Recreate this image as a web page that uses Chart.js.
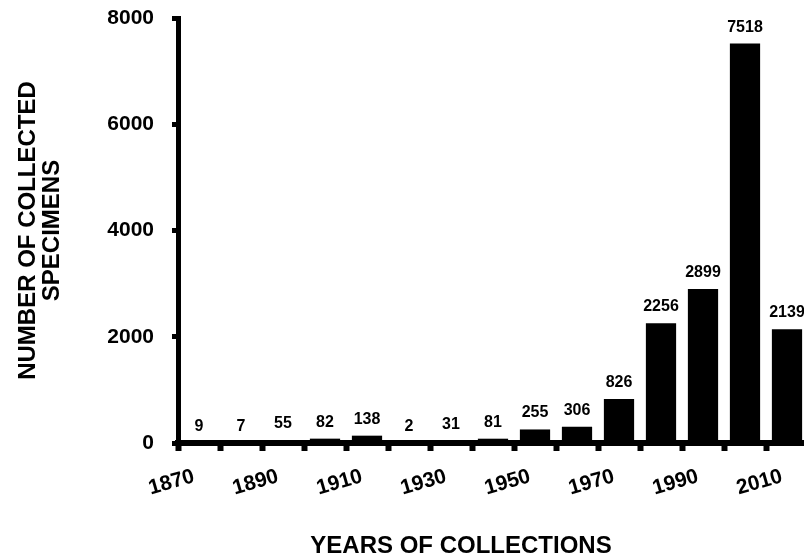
<!DOCTYPE html>
<html>
<head>
<meta charset="utf-8">
<script src="https://cdn.jsdelivr.net/npm/chart.js@4.4.1/dist/chart.umd.min.js"></script>
<style>
  html, body { margin: 0; padding: 0; background: #fff; overflow: hidden; }
  #wrap { position: absolute; left: 0; top: 0; width: 812px; height: 559px; }
</style>
</head>
<body>
<div id="wrap"><canvas id="c"></canvas></div>
<script>
// Decade start years (each bar covers one decade)
const decades = [1870, 1880, 1890, 1900, 1910, 1920, 1930, 1940, 1950, 1960, 1970, 1980, 1990, 2000, 2010];
// Number of collected specimens per decade
const specimens = [9, 7, 55, 82, 138, 2, 31, 81, 255, 306, 826, 2256, 2899, 7518, 2139];
// Labelled x ticks
const xTickLabels = [1870, 1890, 1910, 1930, 1950, 1970, 1990, 2010];
// y ticks
const yTicks = [0, 2000, 4000, 6000, 8000];

const FONT = "'Liberation Sans', Arial, sans-serif";

const barData = decades.map((d, i) => ({ x: d + 5, y: specimens[i] }));

const valueLabels = {
  id: 'valueLabels',
  afterDatasetsDraw(chart) {
    const ctx = chart.ctx;
    const meta = chart.getDatasetMeta(0);
    ctx.save();
    ctx.font = "bold 16px " + FONT;
    ctx.fillStyle = '#000';
    ctx.textAlign = 'center';
    ctx.textBaseline = 'alphabetic';
    meta.data.forEach((bar, i) => {
      ctx.fillText(String(specimens[i]), bar.x, bar.y - 12);
    });
    ctx.restore();
  }
};

const xTitle = {
  id: 'xTitle',
  afterDraw(chart) {
    const ctx = chart.ctx;
    ctx.save();
    ctx.font = "bold 24px " + FONT;
    ctx.fillStyle = '#000';
    ctx.textAlign = 'center';
    ctx.textBaseline = 'middle';
    ctx.fillText('YEARS OF COLLECTIONS', 461, 546);
    ctx.restore();
  }
};

new Chart(document.getElementById('c'), {
  type: 'bar',
  data: {
    datasets: [{
      data: barData,
      backgroundColor: '#000',
      borderWidth: 0,
      categoryPercentage: 1,
      barPercentage: 0.72
    }]
  },
  options: {
    responsive: true,
    maintainAspectRatio: false,
    animation: false,
    layout: { padding: { top: 18, right: 4, left: 0, bottom: 0 } },
    plugins: { legend: { display: false }, tooltip: { enabled: false } },
    scales: {
      x: {
        type: 'linear',
        min: decades[0],
        max: decades[decades.length - 1] + 10,
        offset: false,
        border: { display: true, color: '#000', width: 6 },
        grid: { display: true, offset: false, drawOnChartArea: false, drawTicks: true, tickLength: 8, tickWidth: 6, tickColor: '#000' },
        ticks: {
          stepSize: 10,
          autoSkip: false,
          maxRotation: 16,
          minRotation: 16,
          labelOffset: 16,
          padding: 13,
          color: '#000',
          font: { family: FONT, size: 21, weight: 'bold' },
          callback: (v) => xTickLabels.includes(v) ? String(v) : ''
        },
        afterFit(scale) { scale.height = 116; scale.paddingLeft = 0; scale.paddingRight = 0; }
      },
      y: {
        min: yTicks[0],
        max: yTicks[yTicks.length - 1],
        border: { display: true, color: '#000', width: 5 },
        grid: { display: true, drawOnChartArea: false, drawTicks: true, tickLength: 6, tickWidth: 5, tickColor: '#000' },
        afterBuildTicks(scale) { scale.ticks = yTicks.map(v => ({ value: v })); },
        ticks: {
          padding: 18,
          color: '#000',
          font: { family: FONT, size: 21, weight: 'bold' },
          callback: (v) => String(v)
        },
        title: {
          display: true,
          text: ['NUMBER OF COLLECTED', 'SPECIMENS'],
          color: '#000',
          font: { family: FONT, size: 24, weight: 'bold', lineHeight: 1 },
          padding: { top: 16, bottom: 0 }
        },
        afterFit(scale) { scale.width = 178; scale.paddingTop = 0; scale.paddingBottom = 0; }
      }
    }
  },
  plugins: [valueLabels, xTitle]
});
</script>
</body>
</html>
